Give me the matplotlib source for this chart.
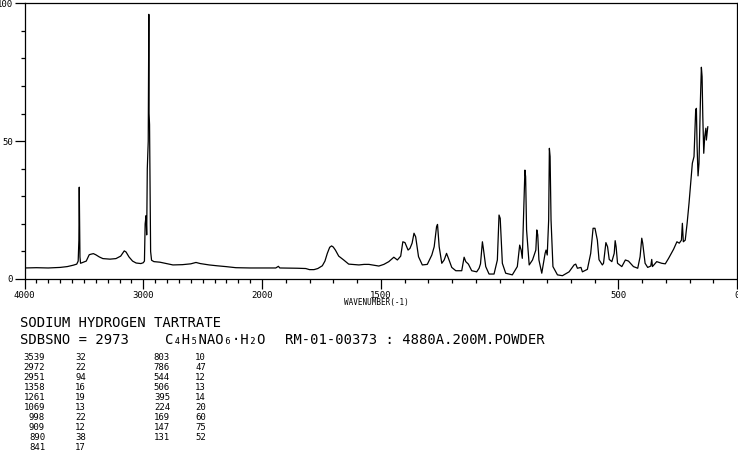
import numpy as np
import matplotlib
matplotlib.use("Agg")
import matplotlib.pyplot as plt
from matplotlib.ticker import FixedLocator, MultipleLocator

# Raman spectrum (wavenumber cm-1, intensity)
wavenumber = [4000, 3900, 3800, 3700, 3640, 3590, 3560, 3548, 3542, 3539,
              3536, 3533, 3528, 3510, 3480, 3455, 3440, 3420, 3400, 3370,
              3340, 3280, 3230, 3190, 3160, 3145, 3120, 3090, 3060, 3020,
              3000, 2990, 2984, 2976, 2971, 2966, 2958, 2953, 2951, 2947,
              2943, 2938, 2930, 2910, 2860, 2780, 2750, 2670, 2600, 2556,
              2520, 2445, 2380, 2305, 2220, 2100, 2000, 1942, 1931, 1925,
              1850, 1816, 1800, 1781, 1765, 1746, 1735, 1725, 1715, 1707,
              1700, 1691, 1677, 1656, 1635, 1592, 1570, 1550, 1508, 1487,
              1466, 1445, 1430, 1416, 1407, 1398, 1385, 1377, 1368, 1360,
              1353, 1341, 1325, 1304, 1285, 1275, 1265, 1261, 1254, 1243,
              1233, 1223, 1215, 1201, 1184, 1159, 1149, 1142, 1131, 1117,
              1096, 1086, 1080, 1072, 1068, 1058, 1044, 1023, 1009, 1002,
              997, 988, 974, 946, 925, 915, 909, 904, 897, 893,
              890, 886, 875, 861, 847, 843, 839, 834, 822, 808,
              804, 799, 793, 790, 787, 783, 775, 756, 735, 707,
              686, 679, 672, 657, 651, 630, 616, 606, 598, 588,
              581, 567, 562, 552, 545, 538, 527, 517, 513, 509,
              503, 485, 470, 457, 436, 418, 408, 401, 397, 387,
              376, 363, 359, 356, 338, 317, 302, 288, 267, 253,
              243, 234, 230, 226, 218, 210, 202, 195, 188, 181,
              174, 171, 168, 164, 160, 154, 150, 147, 144, 140,
              136, 131, 129, 123]
intensity = [4.0, 4.1, 4.0, 4.2, 4.5, 5.0, 5.4, 6.5, 14.0, 33.3,
             20.6, 8.0, 5.7, 6.0, 6.5, 8.8, 9.0, 9.2, 8.8, 8.0,
             7.4, 7.2, 7.4, 8.3, 10.2, 9.8, 8.0, 6.5, 5.8, 5.6,
             5.9, 6.5, 20.0, 23.0, 16.0, 40.0, 50.0, 96.0, 60.0, 56.0,
             36.0, 10.0, 6.8, 6.3, 6.1, 5.4, 5.1, 5.2, 5.5, 6.0,
             5.6, 5.1, 4.8, 4.5, 4.1, 4.0, 4.0, 4.0, 4.6, 4.0,
             3.9, 3.8, 3.4, 3.4, 3.8, 4.8, 6.5, 9.3, 11.5, 12.0,
             11.6, 10.5, 8.3, 6.9, 5.4, 5.1, 5.3, 5.3, 4.7, 5.3,
             6.3, 7.9, 6.9, 8.3, 13.5, 13.2, 10.5, 11.1, 13.0, 16.6,
             15.3, 8.1, 5.1, 5.3, 8.7, 11.7, 19.0, 19.8, 11.7, 5.7,
             6.9, 9.3, 7.5, 4.2, 3.0, 3.0, 7.9, 6.3, 5.4, 3.0,
             2.6, 3.9, 5.5, 13.5, 11.1, 4.5, 1.8, 1.8, 6.9, 23.2,
             22.0, 5.7, 2.1, 1.5, 4.5, 12.3, 10.5, 7.5, 27.5, 39.5,
             37.1, 17.8, 5.1, 6.9, 10.5, 17.8, 16.0, 6.9, 2.1, 9.3,
             10.5, 8.7, 21.4, 47.4, 44.4, 21.4, 4.5, 1.5, 1.2, 2.6,
             5.1, 5.4, 3.9, 4.2, 2.6, 3.5, 9.3, 18.4, 18.4, 14.1,
             7.0, 5.1, 5.7, 13.2, 11.7, 7.1, 6.3, 9.3, 13.9, 11.7,
             5.7, 4.5, 6.9, 6.5, 4.5, 3.9, 8.1, 14.8, 13.0, 5.7,
             4.2, 4.7, 7.1, 4.5, 6.3, 5.7, 5.5, 7.5, 10.8, 13.5,
             13.0, 14.1, 20.2, 13.5, 14.1, 20.2, 27.5, 34.7, 42.0, 44.4,
             61.3, 61.9, 48.0, 37.4, 42.0, 64.9, 76.8, 73.4, 58.9, 45.6,
             51.6, 54.7, 50.4, 55.2]

# peak table printed under the chart
peak_wn_1 = ["3539", "2972", "2951", "1358", "1261", "1069", "998", "909", "890", "841"]
peak_int_1 = ["32", "22", "94", "16", "19", "13", "22", "12", "38", "17"]
peak_wn_2 = ["803", "786", "544", "506", "395", "224", "169", "147", "131"]
peak_int_2 = ["10", "47", "12", "13", "14", "20", "60", "75", "52"]

x_major = [4000, 3000, 2000, 1500, 500, 0]
x_labels = ["4000", "3000", "2000", "1500", "500", "0"]
y_major = [0, 50, 100]

mono = "DejaVu Sans Mono"
plt.rcParams["font.family"] = mono


# half scale above 2000 cm-1
def fwd(w):
    w = np.asarray(w, dtype=float)
    return np.where(w > 2000, 2000 + (w - 2000) / 2.0, w)


def inv(u):
    u = np.asarray(u, dtype=float)
    return np.where(u > 2000, 2000 + (u - 2000) * 2.0, u)


W, H = 738, 457
fig = plt.figure(figsize=(W / 100, H / 100), dpi=100)
ax = fig.add_axes([24.5 / W, 1 - 279 / H, 712.5 / W, 275.7 / H])

ax.plot(wavenumber, intensity, color="black", lw=0.9)

ax.set_xscale("function", functions=(fwd, inv))
ax.set_xlim(4000, 0)
ax.set_ylim(0, 100)

ax.xaxis.set_major_locator(FixedLocator(x_major))
ax.set_xticklabels(x_labels)
ax.xaxis.set_minor_locator(FixedLocator(list(range(0, 4001, 100))))
ax.yaxis.set_major_locator(FixedLocator(y_major))
ax.yaxis.set_minor_locator(MultipleLocator(10))

ax.tick_params(axis="both", which="major", direction="out", length=7,
               width=0.9, labelsize=6.5, pad=1.5)
ax.tick_params(axis="both", which="minor", direction="out", length=3, width=0.9)
for s in ax.spines.values():
    s.set_linewidth(0.9)

ax.set_xlabel("WAVENUMBER(-1)", fontsize=5.5, labelpad=0)
ax.xaxis.set_label_coords((376 - 24.5) / 712.5, -19.5 / 275.7)


def px_text(x, y, s, size, ha="left"):
    fig.text(x / W, 1 - y / H, s, fontsize=size, ha=ha, va="center", family=mono)


px_text(20, 323, "SODIUM HYDROGEN TARTRATE", 10)
px_text(20, 340, "SDBSNO = 2973", 10)
px_text(165, 340, "C\u2084H\u2085NAO\u2086\u00b7H\u2082O", 10)
px_text(285, 340, "RM-01-00373 : 4880A.200M.POWDER", 10)

for i in range(len(peak_wn_1)):
    y = 358 + 10 * i
    px_text(45, y, peak_wn_1[i], 6.5, ha="right")
    px_text(75, y, peak_int_1[i], 6.5)
for i in range(len(peak_wn_2)):
    y = 358 + 10 * i
    px_text(170, y, peak_wn_2[i], 6.5, ha="right")
    px_text(195, y, peak_int_2[i], 6.5)

plt.savefig("out.png", dpi=100)
